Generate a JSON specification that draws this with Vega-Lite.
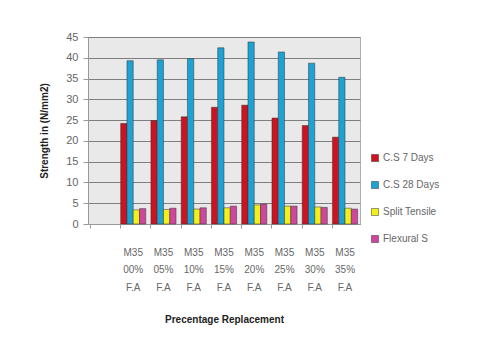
{
  "$schema": "https://vega.github.io/schema/vega-lite/v6.json",
  "width": 272,
  "height": 187,
  "autosize": "none",
  "padding": {"left": 88, "top": 37, "right": 122, "bottom": 114},
  "background": "#ffffff",
  "config": {
    "view": {"fill": "#e9e9e9", "stroke": "#b0b0b0", "strokeWidth": 1},
    "font": "Liberation Sans"
  },
  "data": {
    "values": [
      {"mix": "M35 00% F.A", "test": "C.S 7 Days", "strength": 24.2},
      {"mix": "M35 00% F.A", "test": "C.S 28 Days", "strength": 39.3},
      {"mix": "M35 00% F.A", "test": "Split Tensile", "strength": 3.4},
      {"mix": "M35 00% F.A", "test": "Flexural S", "strength": 3.7},
      {"mix": "M35 05% F.A", "test": "C.S 7 Days", "strength": 24.9},
      {"mix": "M35 05% F.A", "test": "C.S 28 Days", "strength": 39.5},
      {"mix": "M35 05% F.A", "test": "Split Tensile", "strength": 3.5},
      {"mix": "M35 05% F.A", "test": "Flexural S", "strength": 3.8},
      {"mix": "M35 10% F.A", "test": "C.S 7 Days", "strength": 25.8},
      {"mix": "M35 10% F.A", "test": "C.S 28 Days", "strength": 39.8},
      {"mix": "M35 10% F.A", "test": "Split Tensile", "strength": 3.6},
      {"mix": "M35 10% F.A", "test": "Flexural S", "strength": 3.9},
      {"mix": "M35 15% F.A", "test": "C.S 7 Days", "strength": 28.1},
      {"mix": "M35 15% F.A", "test": "C.S 28 Days", "strength": 42.4},
      {"mix": "M35 15% F.A", "test": "Split Tensile", "strength": 3.9},
      {"mix": "M35 15% F.A", "test": "Flexural S", "strength": 4.3},
      {"mix": "M35 20% F.A", "test": "C.S 7 Days", "strength": 28.6},
      {"mix": "M35 20% F.A", "test": "C.S 28 Days", "strength": 43.8},
      {"mix": "M35 20% F.A", "test": "Split Tensile", "strength": 4.6},
      {"mix": "M35 20% F.A", "test": "Flexural S", "strength": 4.8},
      {"mix": "M35 25% F.A", "test": "C.S 7 Days", "strength": 25.5},
      {"mix": "M35 25% F.A", "test": "C.S 28 Days", "strength": 41.4},
      {"mix": "M35 25% F.A", "test": "Split Tensile", "strength": 4.3},
      {"mix": "M35 25% F.A", "test": "Flexural S", "strength": 4.3},
      {"mix": "M35 30% F.A", "test": "C.S 7 Days", "strength": 23.7},
      {"mix": "M35 30% F.A", "test": "C.S 28 Days", "strength": 38.7},
      {"mix": "M35 30% F.A", "test": "Split Tensile", "strength": 4.1},
      {"mix": "M35 30% F.A", "test": "Flexural S", "strength": 4.0},
      {"mix": "M35 35% F.A", "test": "C.S 7 Days", "strength": 20.9},
      {"mix": "M35 35% F.A", "test": "C.S 28 Days", "strength": 35.3},
      {"mix": "M35 35% F.A", "test": "Split Tensile", "strength": 3.8},
      {"mix": "M35 35% F.A", "test": "Flexural S", "strength": 3.6}
    ]
  },
  "mark": {"type": "bar", "stroke": "#333333", "strokeWidth": 0.5},
  "encoding": {
    "x": {
      "field": "mix",
      "type": "nominal",
      "scale": {
        "domain": ["", "M35 00% F.A", "M35 05% F.A", "M35 10% F.A", "M35 15% F.A", "M35 20% F.A", "M35 25% F.A", "M35 30% F.A", "M35 35% F.A"],
        "paddingInner": 0.17,
        "paddingOuter": 0.08
      },
      "axis": {
        "title": "Precentage Replacement",
        "titleFontSize": 10,
        "titleFontWeight": "bold",
        "titleColor": "#222222",
        "titlePadding": 22,
        "labelAngle": 0,
        "labelExpr": "split(datum.label, ' ')",
        "labelFontSize": 10,
        "labelColor": "#666666",
        "labelLineHeight": 17.5,
        "labelPadding": 19,
        "bandPosition": 0,
        "ticks": true,
        "tickColor": "#999999",
        "tickSize": 4,
        "domainColor": "#999999",
        "grid": false
      }
    },
    "xOffset": {
      "field": "test",
      "type": "nominal",
      "sort": ["C.S 7 Days", "C.S 28 Days", "Split Tensile", "Flexural S"],
      "scale": {"paddingInner": 0, "paddingOuter": 0}
    },
    "y": {
      "field": "strength",
      "type": "quantitative",
      "scale": {"domain": [0, 45], "nice": false},
      "axis": {
        "title": "Strength in (N/mm2)",
        "titleFontSize": 10,
        "titleFontWeight": "bold",
        "titleColor": "#222222",
        "titlePadding": 16,
        "values": [0, 5, 10, 15, 20, 25, 30, 35, 40, 45],
        "labelFontSize": 11,
        "labelColor": "#666666",
        "labelPadding": 5,
        "tickColor": "#999999",
        "tickSize": 5,
        "domainColor": "#999999",
        "gridColor": "#7f7f7f",
        "gridWidth": 1
      }
    },
    "color": {
      "field": "test",
      "type": "nominal",
      "scale": {
        "domain": ["C.S 7 Days", "C.S 28 Days", "Split Tensile", "Flexural S"],
        "range": ["#cc1420", "#1ea2d4", "#f2f01a", "#d0469c"]
      },
      "legend": {
        "title": null,
        "orient": "none",
        "legendX": 282,
        "legendY": 116,
        "symbolType": "square",
        "symbolSize": 50,
        "symbolStrokeColor": "#333333",
        "symbolStrokeWidth": 0.5,
        "labelFontSize": 10,
        "labelColor": "#666666",
        "rowPadding": 17,
        "labelOffset": 3
      }
    }
  }
}
